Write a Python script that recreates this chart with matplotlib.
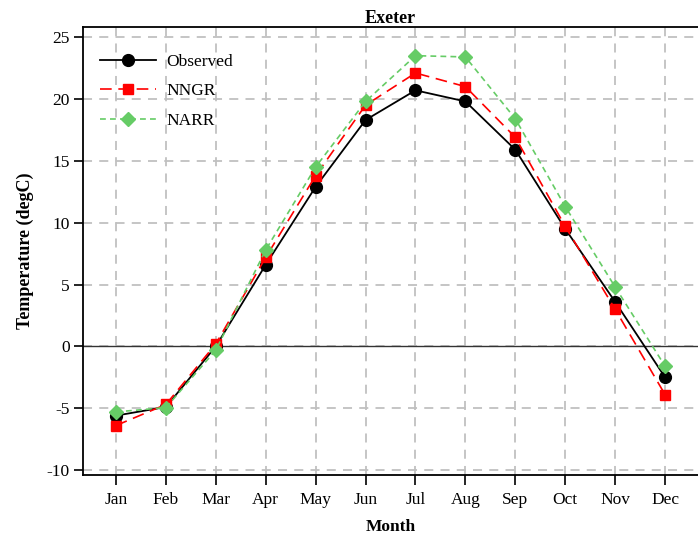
import matplotlib.pyplot as plt

months = ['Jan', 'Feb', 'Mar', 'Apr', 'May', 'Jun',
          'Jul', 'Aug', 'Sep', 'Oct', 'Nov', 'Dec']
observed = [-5.6, -4.9, 0.0, 6.6, 12.9, 18.3, 20.7, 19.8, 15.9, 9.5, 3.6, -2.5]
nngr = [-6.4, -4.7, 0.2, 7.2, 13.8, 19.5, 22.1, 21.0, 16.9, 9.7, 3.0, -3.9]
narr = [-5.3, -4.95, -0.3, 7.8, 14.5, 19.8, 23.5, 23.4, 18.4, 11.3, 4.8, -1.6]

plt.rcParams['font.family'] = ['Liberation Serif', 'DejaVu Serif']
plt.rcParams['axes.unicode_minus'] = False

fig = plt.figure(figsize=(6.98, 5.34), dpi=100)
ax = fig.add_axes([0.119, 0.1105, 0.881, 0.8385])

x = list(range(1, len(months) + 1))

ax.plot(x, observed, color='black', lw=1.3, marker='o', markersize=8.5,
        label='Observed', zorder=3)
ax.plot(x, nngr, color='red', lw=1.2, marker='s', markersize=7.5,
        dashes=(7, 4), label='NNGR', zorder=4)
ax.plot(x, narr, color='#66cc66', lw=1.2, marker='D', markersize=7,
        dashes=(3.5, 2.5), label='NARR', zorder=5)

ax.axhline(0, color='#333333', lw=1.0, zorder=2)

ax.set_xlim(0.34, 12.66)
ax.set_ylim(-10.4, 25.8)
ax.set_xticks(x)
ax.set_xticklabels(months)
ax.set_yticks(range(-10, 26, 5))

ax.grid(True, color='#c0c0c0', linestyle=(0, (5, 4)), lw=1.3)
ax.set_axisbelow(True)

ax.spines['right'].set_visible(False)
for side in ('left', 'top', 'bottom'):
    ax.spines[side].set_linewidth(1.3)

ax.tick_params(axis='x', direction='out', length=7, width=1.2, pad=5, labelsize=12.5)
ax.tick_params(axis='y', direction='out', length=6.5, width=1.2, pad=3, labelsize=12.5)

ax.set_title('Exeter', fontsize=13, fontweight='bold', pad=3)
ax.set_xlabel('Month', fontsize=12.5, fontweight='bold', labelpad=8)
ax.set_ylabel('Temperature (degC)', fontsize=13, fontweight='bold', labelpad=9)

ax.legend(loc='upper left', frameon=False, fontsize=12.5, handlelength=3.2,
          handletextpad=0.6, labelspacing=0.78, borderaxespad=0.6,
          bbox_to_anchor=(0.0, 0.98))

fig.savefig('out.png', dpi=100)
